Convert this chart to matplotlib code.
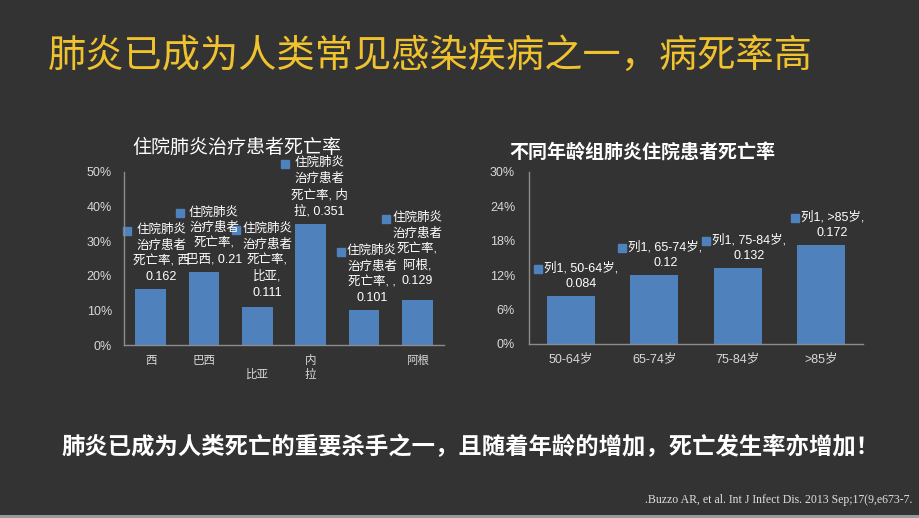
import matplotlib
matplotlib.use("Agg")
import matplotlib.pyplot as plt
from matplotlib.ticker import PercentFormatter
from matplotlib.patches import Rectangle

# data
countries = ["西", "巴西", "\n比亚", "内\n拉", "", "阿根"]
country_rates = [0.162, 0.21, 0.111, 0.351, 0.101, 0.129]
country_labels = [
    "住院肺炎\n治疗患者\n死亡率, 西\n0.162",
    "住院肺炎\n治疗患者\n死亡率,\n巴西, 0.21",
    "住院肺炎\n治疗患者\n死亡率,\n比亚,\n0.111",
    "住院肺炎\n治疗患者\n死亡率, 内\n拉, 0.351",
    "住院肺炎\n治疗患者\n死亡率, ,\n0.101",
    "住院肺炎\n治疗患者\n死亡率,\n阿根,\n0.129",
]
age_groups = ["50-64岁", "65-74岁", "75-84岁", ">85岁"]
age_rates = [0.084, 0.12, 0.132, 0.172]
age_labels = ["列1, 50-64岁,\n0.084", "列1, 65-74岁,\n0.12",
              "列1, 75-84岁,\n0.132", "列1, >85岁,\n0.172"]

# label shifts in px (dx, gap above bar)
left_shift = [(11, 6), (10, 7), (10, 8), (9, 6), (8, 6), (0, 13)]
right_shift = [(10, 6), (11, 6), (11, 6), (11, 6)]

BG = "#333333"
BLUE = "#4F81BD"
YELLOW = "#EFC22E"
GREY = "#d9d9d9"
CJK = ["Noto Sans CJK SC", "DejaVu Sans"]
MIX = ["Liberation Sans", "Noto Sans CJK SC"]

plt.rcParams["font.family"] = CJK

fig = plt.figure(figsize=(9.2, 5.18), dpi=100, facecolor=BG)
px = 0.72  # points per pixel

fig.text(430 / 920, 1 - 56 / 518, "肺炎已成为人类常见感染疾病之一，病死率高",
         color=YELLOW, fontsize=27.5, ha="center", va="center")
fig.text(470 / 920, 1 - 447 / 518, "肺炎已成为人类死亡的重要杀手之一，且随着年龄的增加，死亡发生率亦增加！",
         color="white", fontsize=16.8, fontweight="bold", ha="center", va="center")
fig.text(912 / 920, 1 - 500 / 518, ".Buzzo AR, et al. Int J Infect Dis. 2013 Sep;17(9,e673-7.",
         color="#e0e0e0", fontsize=8.5, family="Liberation Serif", ha="right", va="center")
fig.patches.append(Rectangle((0, 0), 1, 3 / 518, transform=fig.transFigure,
                             facecolor="#9a9a9a", edgecolor="none"))

fig.text(237 / 920, 1 - 147 / 518, "住院肺炎治疗患者死亡率",
         color="white", fontsize=13.7, ha="center", va="center")
fig.text(642 / 920, 1 - 152 / 518, "不同年龄组肺炎住院患者死亡率",
         color="white", fontsize=13.7, fontweight="bold", ha="center", va="center")

ax1 = fig.add_axes([124 / 920, 1 - 345 / 518, 320 / 920, 173 / 518])
ax2 = fig.add_axes([529 / 920, 1 - 344 / 518, 334 / 920, 172 / 518])


def style(ax, ymax, step, xsize, ypad):
    ax.set_facecolor(BG)
    for s in ["top", "right"]:
        ax.spines[s].set_visible(False)
    for s in ["left", "bottom"]:
        ax.spines[s].set_color("#8c8c8c")
        ax.spines[s].set_linewidth(1)
    ax.set_ylim(0, ymax)
    ax.set_yticks([i * step for i in range(round(ymax / step) + 1)])
    ax.yaxis.set_major_formatter(PercentFormatter(1.0, decimals=0))
    ax.tick_params(axis="y", length=0, pad=ypad, colors=GREY, labelsize=9)
    ax.tick_params(axis="x", length=0, pad=6.5, colors=GREY, labelsize=xsize)
    for t in ax.get_yticklabels():
        t.set_family(MIX)


texts = []

x1 = range(len(countries))
ax1.bar(x1, country_rates, width=0.58, color=BLUE)
ax1.set_xlim(-0.5, len(countries) - 0.5)
ax1.set_xticks(list(x1))
ax1.set_xticklabels(countries, linespacing=1.1)
style(ax1, 0.5, 0.1, 8.3, 8.6)
for i, v in enumerate(country_rates):
    dx, dy = left_shift[i]
    t = ax1.annotate(country_labels[i], (i, v), xytext=(dx * px, dy * px),
                     textcoords="offset points", ha="center", va="bottom",
                     multialignment="center", color="white", fontsize=9,
                     family=MIX, linespacing=1.4, annotation_clip=False)
    texts.append((ax1, t))

x2 = range(len(age_groups))
ax2.bar(x2, age_rates, width=0.575, color=BLUE)
ax2.set_xlim(-0.5, len(age_groups) - 0.5)
ax2.set_xticks(list(x2))
ax2.set_xticklabels(age_groups)
style(ax2, 0.3, 0.06, 9, 10)
for t in ax2.get_xticklabels():
    t.set_family(MIX)
for i, v in enumerate(age_rates):
    dx, dy = right_shift[i]
    t = ax2.annotate(age_labels[i], (i, v), xytext=(dx * px, dy * px),
                     textcoords="offset points", ha="center", va="bottom",
                     multialignment="center", color="white", fontsize=9,
                     family=MIX, linespacing=1.4, annotation_clip=False)
    texts.append((ax2, t))

# legend-key squares next to each data label
fig.canvas.draw()
r = fig.canvas.get_renderer()
for ax, t in texts:
    bb = t.get_window_extent(r)
    mx, my = ax.transData.inverted().transform((bb.x0 - 6, bb.y1 - 7))
    ax.plot([mx], [my], marker="s", markersize=6, color=BLUE, clip_on=False)

fig.savefig("out.png", dpi=100, facecolor=BG)
